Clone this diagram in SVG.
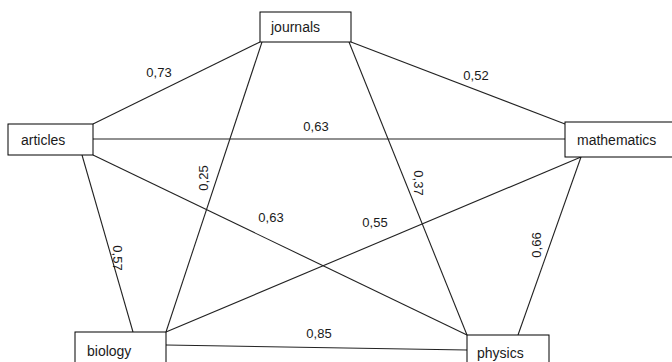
<svg xmlns="http://www.w3.org/2000/svg" width="672" height="362" viewBox="0 0 672 362">
<style>
.box{fill:#fff;stroke:#000;stroke-width:1}
.lbl{font-family:"Liberation Sans",Arial,sans-serif;font-size:14px;fill:#1a1a1a}
.w{font-family:"Liberation Sans",Arial,sans-serif;font-size:13px;fill:#1a1a1a;text-anchor:middle}
.e line{stroke:#222;stroke-width:1.1}
</style>
<rect width="672" height="362" fill="#fff"/>
<g id="connectors" class="e">
<line x1="260" y1="42" x2="93" y2="124"/>
<line x1="262" y1="42" x2="166" y2="332"/>
<line x1="351" y1="42" x2="565" y2="124"/>
<line x1="349" y1="42" x2="467" y2="335"/>
<line x1="93" y1="139" x2="565" y2="139"/>
<line x1="93" y1="155" x2="467" y2="335"/>
<line x1="82" y1="155" x2="133" y2="332"/>
<line x1="166" y1="332" x2="581" y2="157"/>
<line x1="166" y1="345" x2="467" y2="350"/>
<line x1="581" y1="157" x2="518" y2="335"/>
</g>
<g id="edge-labels">
<text class="w" x="159" y="77">0,73</text>
<text class="w" x="476" y="80">0,52</text>
<text class="w" x="316" y="131">0,63</text>
<text class="w" x="271" y="222">0,63</text>
<text class="w" x="375" y="227">0,55</text>
<text class="w" x="319" y="338">0,85</text>
<text class="w" transform="translate(208,178) rotate(-90)">0,25</text>
<text class="w" transform="translate(414,183) rotate(90)">0,37</text>
<text class="w" transform="translate(113,258) rotate(90)">0,57</text>
<text class="w" transform="translate(541,245) rotate(-90)">0,66</text>
</g>
<g id="journals"><rect class="box" x="260" y="12" width="91" height="30"/><text class="lbl" x="271" y="32">journals</text></g>
<g id="articles"><rect class="box" x="8" y="124" width="85" height="31"/><text class="lbl" x="21" y="145">articles</text></g>
<g id="mathematics"><rect class="box" x="565" y="122" width="110" height="35"/><text class="lbl" x="577" y="145">mathematics</text></g>
<g id="biology"><rect class="box" x="75" y="332" width="91" height="40"/><text class="lbl" x="87" y="356">biology</text></g>
<g id="physics"><rect class="box" x="467" y="335" width="82" height="40"/><text class="lbl" x="477" y="358">physics</text></g>
</svg>
